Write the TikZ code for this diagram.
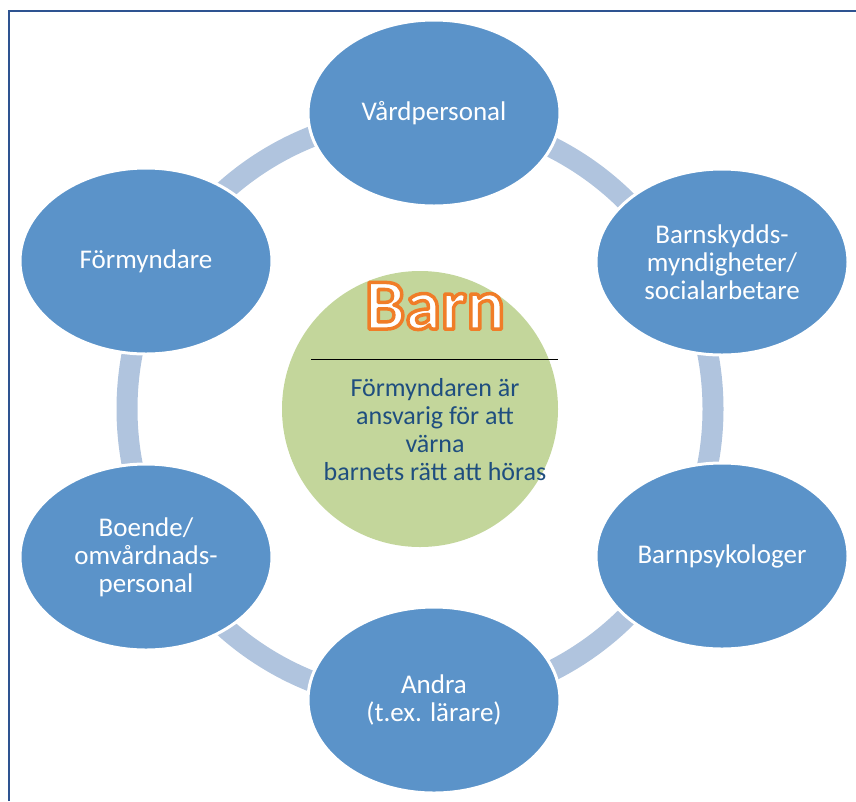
\documentclass[tikz,border=0pt]{standalone}
\usepackage{fontspec}
\setmainfont{Carlito}
\usetikzlibrary{calc}
\usetikzlibrary{shapes.geometric}

\definecolor{aktorblue}{HTML}{5B93C9}
\definecolor{ringblue}{HTML}{B0C4DE}
\definecolor{barngreen}{HTML}{C3D69B}
\definecolor{textblue}{HTML}{1F4E7F}
\definecolor{ramblue}{HTML}{2E5391}
\newcommand\orangekant[1]{\special{pdf:code q 2 Tr 3.5 w 1 j 0.941 0.49 0.157 RG}#1\special{pdf:code Q}}

\tikzset{
  aktor/.style={ellipse, fill=aktorblue, draw=white, line width=3pt, minimum width=252pt, minimum height=186pt, inner sep=0pt, align=center, text=white, font=\fontsize{27}{28}\selectfont},
  hub/.style={circle, fill=barngreen, minimum size=276pt, inner sep=0pt},
  ring/.style={ringblue, line width=21pt}
}

\begin{document}
\begin{tikzpicture} [x=1pt, y=-1pt]
\useasboundingbox (0,0) rectangle (856,801);
\draw[ramblue, line width=2pt] (9,801)--(9,11)--(856,11);

\node[hub] (barn) at (420,409) {};
\draw[ring] (barn.center) circle (293pt);

\node[aktor] (vard) at (434,113) {Vårdpersonal};
\node[aktor] (skydd) at (722,262) {Barnskydds-\\myndigheter/\\socialarbetare};
\node[aktor] (psyk) at (722,556) {Barnpsykologer};
\node[aktor] (andra) at (434,700) {Andra\\(t.ex. lärare)};
\node[aktor] (boende) at (146,557) {Boende/\\omvårdnads-\\personal};
\node[aktor] (formyndare) at (146,261) {Förmyndare};

\node[text=white, font=\fontsize{72}{72}\selectfont\bfseries] (titel) at ($ (barn.center) +(15,-103) $) {\orangekant{Barn}};
\draw[black, line width=1pt] ($ (barn.center) +(-109,-50) $) --++(247,0);
\node[text=textblue, align=center, font=\fontsize{26}{28}\selectfont] (info) at ($ (barn.center) +(15,21) $) {Förmyndaren är\\ansvarig för att\\värna\\barnets rätt att höras};

\end{tikzpicture}
\end{document}
